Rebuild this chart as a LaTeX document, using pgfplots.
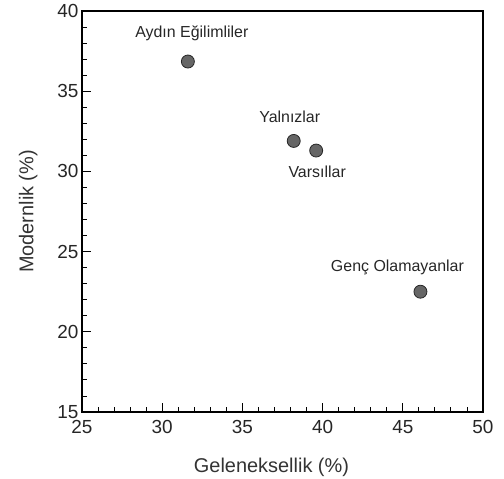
\documentclass[border=0pt]{standalone}
\usepackage{pgfplots}
\usepackage{pgfplotstable}
\pgfplotsset{compat=1.18}
\usepackage{fontspec}
\setmainfont{Liberation Sans}

% group positions: x = tradition (%), y = modernity (%), label offsets in bp
\pgfplotstableread[col sep=comma]{
x,y,label,dx,dy
31.6,36.85,Aydın Eğilimliler,4,28
38.2,31.9,Yalnızlar,-4,24
39.6,31.3,Varsıllar,1,-21
46.1,22.5,Genç Olamayanlar,-23,24
}\groups

\begin{document}
\begin{tikzpicture}
\begin{axis}[
    scale only axis,
    width=401bp, height=401bp,
    xmin=25, xmax=50, ymin=15, ymax=40,
    xtick={25,30,...,50}, ytick={15,20,...,40},
    minor tick num=4,
    tick pos=left,
    tick align=inside,
    major tick length=9bp,
    minor tick length=5bp,
    axis line style={line width=1.3pt},
    every tick/.style={black, line width=0.9pt},
    /pgf/number format/assume math mode=true,
    tick label style={font=\fontsize{19}{19}\selectfont, text=black!85},
    xticklabel style={yshift=-5bp},
    label style={font=\fontsize{20}{20}\selectfont, text=black!80},
    xlabel={Geleneksellik (\%)},
    ylabel={Modernlik (\%)},
    xlabel shift=17bp,
    xlabel style={xshift=-11bp},
    ylabel shift=13bp,
    clip=false,
]
\addplot[
    only marks,
    mark=*,
    mark size=6.5bp,
    mark options={fill=black!60, draw=black!85, line width=0.8pt},
    point meta=explicit symbolic,
    nodes near coords,
    visualization depends on={\thisrow{dx} \as \ldx},
    visualization depends on={\thisrow{dy} \as \ldy},
    every node near coord/.style={anchor=center, xshift=\ldx bp, yshift=\ldy bp,
        font=\fontsize{16}{16}\selectfont, text=black!85},
] table[x=x, y=y, meta=label] {\groups};
\coordinate (sw) at (rel axis cs:0,0);
\coordinate (ne) at (rel axis cs:1,1);
\end{axis}
\pgfresetboundingbox
\path ([xshift=-82bp, yshift=-67bp]sw) rectangle ([xshift=21bp, yshift=11bp]ne);
\end{tikzpicture}
\end{document}
